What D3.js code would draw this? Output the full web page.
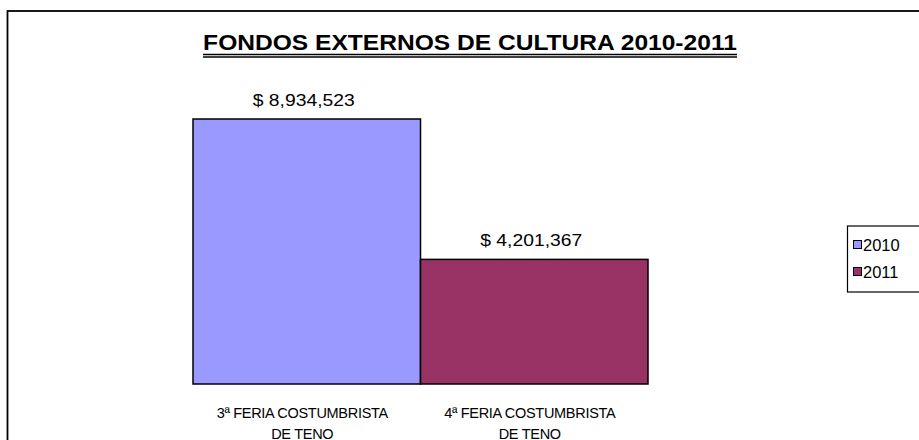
<!DOCTYPE html>
<html>
<head>
<meta charset="utf-8">
<script src="https://cdn.jsdelivr.net/npm/d3@7"></script>
<style>
  html, body { margin: 0; padding: 0; background: #fff; }
  svg { display: block; font-family: "Liberation Sans", Arial, sans-serif; }
</style>
</head>
<body>
<svg id="chart" width="919" height="440"></svg>
<script>
const title = "FONDOS EXTERNOS DE CULTURA 2010-2011";
const categories = ["3ª FERIA COSTUMBRISTA|DE TENO", "4ª FERIA COSTUMBRISTA|DE TENO"];
const seriesNames = ["2010", "2011"];
const seriesColors = ["#9999FF", "#993366"];
const values = [8934523, 4201367];
const yDomain = [0, 10000000];

const svg = d3.select("#chart");
const W = 919, H = 440;

// outer chart border (extends beyond the visible area)
svg.append("rect")
  .attr("x", 7.5).attr("y", 11)
  .attr("width", W + 20).attr("height", H + 20)
  .attr("fill", "#fff").attr("stroke", "#000").attr("stroke-width", 1.8);

// scales
const x = d3.scaleBand().domain(categories).range([193, 648]).padding(0);
const y = d3.scaleLinear().domain(yDomain).range([384, 384 - 265 * 1e7 / 8934523]);

function fitWidth(sel, target) {
  sel.each(function() {
    const w = this.getComputedTextLength();
    const k = target / w;
    const tx = +this.getAttribute("x");
    d3.select(this).attr("transform", `translate(${tx},0) scale(${k},1) translate(${-tx},0)`);
  });
}

// title
const t = svg.append("text")
  .attr("x", 470).attr("y", 50.5)
  .attr("text-anchor", "middle")
  .attr("font-weight", "bold").attr("font-size", 21.5)
  .text(title);
fitWidth(t, 534);
// double underline
[54.5, 57].forEach(yy => {
  svg.append("line")
    .attr("x1", 203).attr("x2", 737).attr("y1", yy).attr("y2", yy)
    .attr("stroke", "#000").attr("stroke-width", 1.4);
});

// bars
const data = categories.map((c, i) => ({ cat: c, value: values[i], series: seriesNames[i], color: seriesColors[i] }));
svg.selectAll("rect.bar").data(data).join("rect")
  .attr("class", "bar")
  .attr("x", d => x(d.cat))
  .attr("y", d => y(d.value))
  .attr("width", x.bandwidth())
  .attr("height", d => y(0) - y(d.value))
  .attr("fill", d => d.color)
  .attr("stroke", "#000").attr("stroke-width", 1.5);

// value labels
const fmt = d3.format(",");
svg.selectAll("text.val").data(data).join("text")
  .attr("class", "val")
  .attr("x", d => x(d.cat) + x.bandwidth() / 2 - 3)
  .attr("y", d => y(d.value) - 13)
  .attr("text-anchor", "middle")
  .attr("font-size", 17)
  .text(d => "$ " + fmt(d.value))
  .call(fitWidth, 102);

// category labels
data.forEach(d => {
  const lines = d.cat.split("|");
  const cx = x(d.cat) + x.bandwidth() / 2 - 4.5;
  lines.forEach((ln, j) => {
    svg.append("text")
      .attr("x", cx).attr("y", 418 + j * 20.5)
      .attr("text-anchor", "middle")
      .attr("font-size", 14.5)
      .attr("letter-spacing", -0.3)
      .text(ln);
  });
});

// legend
const lg = svg.append("g");
lg.append("rect")
  .attr("x", 847.5).attr("y", 226).attr("width", 100).attr("height", 66)
  .attr("fill", "#fff").attr("stroke", "#000").attr("stroke-width", 1.2);
seriesNames.forEach((s, i) => {
  lg.append("rect")
    .attr("x", 853.5).attr("y", 240.5 + i * 27).attr("width", 8).attr("height", 8)
    .attr("fill", seriesColors[i]).attr("stroke", "#000").attr("stroke-width", 1);
  lg.append("text")
    .attr("x", 863).attr("y", 250.5 + i * 27)
    .attr("font-size", 16.5)
    .text(s);
});
</script>
</body>
</html>
